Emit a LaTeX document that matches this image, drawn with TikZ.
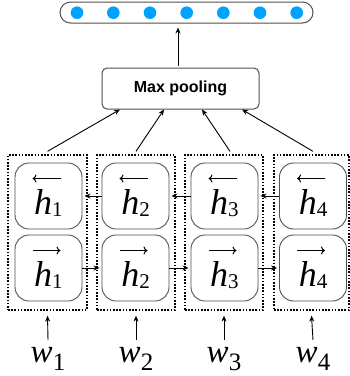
\RequirePackage{fix-cm}
\documentclass[tikz,border=0pt]{standalone}
\usepackage{fontspec}
\newfontfamily\arialf{Liberation Sans}
\newfontfamily\tms{Liberation Serif}
\usetikzlibrary{arrows.meta}
\definecolor{dotblue}{RGB}{0,162,255}
\definecolor{edgegray}{RGB}{80,80,80}
% small arrows set over h
\newcommand{\arrleft}{\tikz[baseline=0pt]\draw[line width=1pt,-{Computer Modern Rightarrow[length=4pt,width=8pt]}] (28pt,0pt) -- (0pt,0pt);}
\newcommand{\arrright}{\tikz[baseline=0pt]\draw[line width=1pt,-{Computer Modern Rightarrow[length=4pt,width=8pt]}] (0pt,0pt) -- (28pt,0pt);}
% h with an arrow above it: #1 = arrow, #2 = index
\newcommand{\hvec}[2]{\ooalign{{\tms\fontsize{36}{40}\selectfont\itshape h}{\tms\fontsize{21}{23}\selectfont\raisebox{-2pt}{#2}}\cr
  \hidewidth\kern-4pt\raisebox{35.5pt}{#1}\hidewidth\cr}}
% input word w with index
\newcommand{\wsub}[1]{{\tms\fontsize{33}{38}\selectfont\itshape w}{\tms\fontsize{25}{28}\selectfont\raisebox{-8pt}{#1}}}
\begin{document}
\begin{tikzpicture}[x=1pt,y=-1pt,
  hnode/.style={draw=edgegray, line width=0.9pt, rounded corners=14pt,
    minimum width=67pt, minimum height=66pt, inner sep=0pt,
    text height=38pt, text depth=2pt},
  colbox/.style={draw, line width=1.3pt, dash pattern=on 1.6pt off 1.6pt,
    minimum height=155pt, inner sep=0pt},
  arr/.style={-{Stealth[length=6pt,width=5pt]}, line width=0.9pt},
  dot/.style={circle, fill=dotblue, minimum size=12.6pt, inner sep=0pt},
  wnode/.style={inner sep=0pt, anchor=base}]
\useasboundingbox (0,0) rectangle (350,376);
% output bar
\node[draw=edgegray, line width=1pt, rounded corners=10.5pt,
  minimum width=253pt, minimum height=21pt, inner sep=0pt] (bar) at (186.5,12.5) {};
\foreach \i/\x in {1/77,2/113.3,3/150,4/186.7,5/223.3,6/260,7/296.7}
  \node[dot] (d\i) at (\x,12.7) {};
% max pooling
\node[draw=edgegray, line width=1pt, rounded corners=5pt,
  minimum width=157pt, minimum height=41pt, inner sep=0pt,
  font=\arialf\bfseries\fontsize{16}{18}\selectfont] (mp) at (180.5,88.5) {Max pooling};
\draw[arr, shorten <=2pt, shorten >=4pt] ([xshift=-2.5pt]mp.north) -- ([xshift=-8.5pt]bar.south);
% column boxes
\node[colbox, minimum width=79pt] (c1) at (47.5,232.5) {};
\node[colbox, minimum width=78pt] (c2) at (136,232.5) {};
\node[colbox, minimum width=78pt] (c3) at (224,232.5) {};
\node[colbox, minimum width=75pt] (c4) at (311.5,232.5) {};
% hidden state nodes
\node[hnode] (t1) at (48.5,196) {\hvec{\arrleft}{1}};
\node[hnode] (t2) at (135.5,196) {\hvec{\arrleft}{2}};
\node[hnode] (t3) at (224.5,196) {\hvec{\arrleft}{3}};
\node[hnode] (t4) at (313,196) {\hvec{\arrleft}{4}};
\node[hnode] (b1) at (48.5,268) {\hvec{\arrright}{1}};
\node[hnode] (b2) at (135.5,268) {\hvec{\arrright}{2}};
\node[hnode] (b3) at (224.5,268) {\hvec{\arrright}{3}};
\node[hnode] (b4) at (313,268) {\hvec{\arrright}{4}};
% recurrent connectors
\draw[arr, shorten >=2pt] (t2) -- (t1);
\draw[arr, shorten >=2pt] (t3) -- (t2);
\draw[arr, shorten >=2pt] (t4) -- (t3);
\draw[arr, shorten >=2pt] (b1) -- (b2);
\draw[arr, shorten >=2pt] (b2) -- (b3);
\draw[arr, shorten >=2pt] (b3) -- (b4);
% to max pooling
\draw[arr] ([yshift=3pt]c1.north) -- ([xshift=-60.5pt]mp.south);
\draw[arr] ([yshift=3pt]c2.north) -- ([xshift=-16.5pt]mp.south);
\draw[arr] ([xshift=6pt,yshift=3pt]c3.north) -- ([xshift=21.5pt]mp.south);
\draw[arr] ([xshift=1.5pt,yshift=3pt]c4.north) -- ([xshift=61.5pt]mp.south);
% inputs
\node[wnode] (w1) at (48,362) {\wsub{1}};
\node[wnode] (w2) at (136,362) {\wsub{2}};
\node[wnode] (w3) at (224,362) {\wsub{3}};
\node[wnode] (w4) at (313,362) {\wsub{4}};
\draw[arr] ([yshift=22pt]w1.base) -- ([yshift=-5pt]c1.south);
\draw[arr] ([yshift=22pt]w2.base) -- ([yshift=-5pt]c2.south);
\draw[arr] ([yshift=22pt]w3.base) -- ([yshift=-5pt]c3.south);
\draw[arr] ([yshift=22pt]w4.base) -- ([yshift=-5pt]c4.south);
\end{tikzpicture}
\end{document}
